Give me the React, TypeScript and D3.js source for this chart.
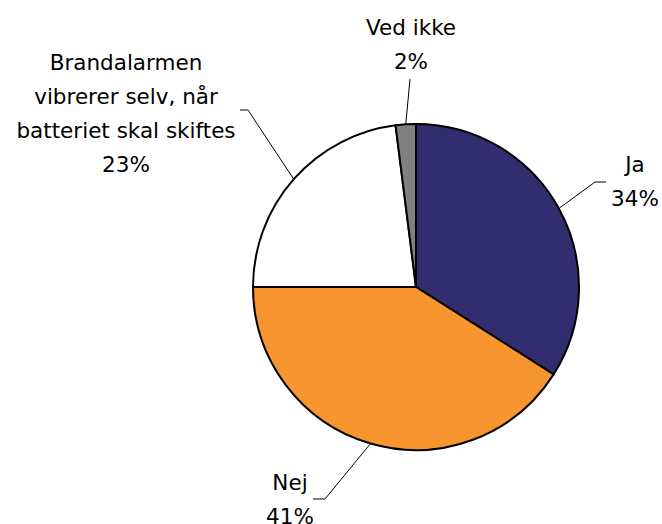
import React from "react";
import * as d3 from "d3";

const categories = ["Ja", "Nej", "Brandalarmen vibrerer selv, når batteriet skal skiftes", "Ved ikke"];
const values = [34, 41, 23, 2];
const labelLines = [["Ja", "34%"], ["Nej", "41%"], ["Brandalarmen", "vibrerer selv, når", "batteriet skal skiftes", "23%"], ["Ved ikke", "2%"]];
const colors = ["#322D6E", "#F7962F", "#FFFFFF", "#808080"];

// label anchor (center x, first-line center y) and leader elbow points
const labelPos = [
  { x: 635, y: 164, elbow: [[606, 182], [595, 182]] },
  { x: 290, y: 482, elbow: [[313, 499], [325, 499]] },
  { x: 126, y: 62, elbow: [[240, 110], [248, 110]] },
  { x: 411, y: 27, elbow: [[410, 79]] },
];

export default function App() {
  const width = 662, height = 524;
  const cx = 416, cy = 287, r = 163;
  const pie = d3.pie<number>().sort(null).value((d) => d);
  const arcs = pie(values);
  const arc = d3.arc<d3.PieArcDatum<number>>().innerRadius(0).outerRadius(r);
  const lineH = 34;
  return (
    <svg width={width} height={height} style={{ position: "absolute", left: 0, top: 0 }}>
      <g transform={`translate(${cx},${cy})`}>
        {arcs.map((a, i) => (
          <path key={i} d={arc(a) || ""} fill={colors[i]} stroke="#000" strokeWidth={2} />
        ))}
      </g>
      {arcs.map((a, i) => {
        const mid = (a.startAngle + a.endAngle) / 2;
        const px = cx + r * Math.sin(mid);
        const py = cy - r * Math.cos(mid);
        const pts = [...labelPos[i].elbow, [px, py]];
        return (
          <polyline key={"l" + i} points={pts.map((p) => p.join(",")).join(" ")} fill="none" stroke="#000" strokeWidth={1} />
        );
      })}
      {labelLines.map((lines, i) => (
        <text key={"t" + i} textAnchor="middle" fontFamily="DejaVu Sans, Verdana, sans-serif" fontSize={21.5} fill="#000">
          {lines.map((ln, j) => (
            <tspan key={j} x={labelPos[i].x} y={labelPos[i].y + j * lineH} dy="0.36em">{ln}</tspan>
          ))}
        </text>
      ))}
    </svg>
  );
}
